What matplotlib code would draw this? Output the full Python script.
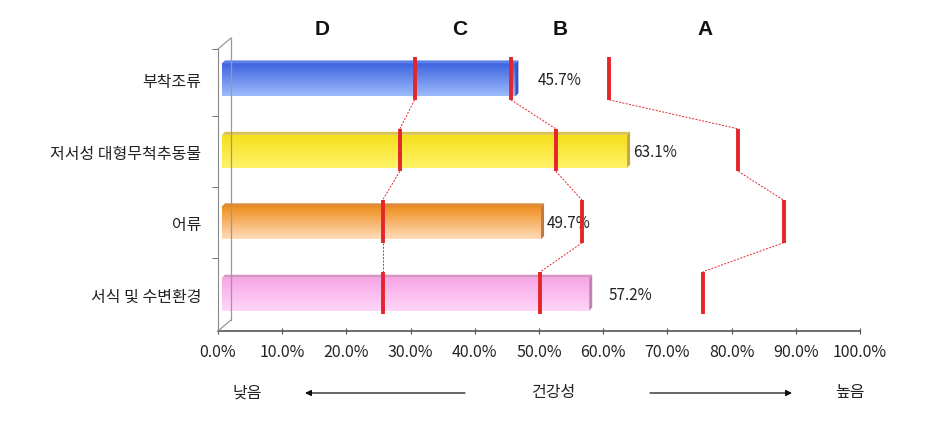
import matplotlib
matplotlib.use('Agg')
import matplotlib.pyplot as plt
import numpy as np
from matplotlib.patches import Rectangle, Polygon
from matplotlib.lines import Line2D
from matplotlib.transforms import IdentityTransform
from matplotlib.colors import to_rgb

plt.rcParams['font.family'] = ['Noto Sans CJK KR', 'DejaVu Sans']

# ---------------- data ----------------
categories = ['부착조류', '저서성 대형무척추동물', '어류', '서식 및 수변환경']
values = [45.7, 63.1, 49.7, 57.2]
boundary_dc = [30.0, 27.7, 25.0, 25.0]
boundary_cb = [45.0, 52.0, 56.1, 49.6]
boundary_ba = [60.3, 80.4, 87.5, 74.9]
grade_labels = ['D', 'C', 'B', 'A']
xticks = [0, 10, 20, 30, 40, 50, 60, 70, 80, 90, 100]
bottom_left, bottom_mid, bottom_right = '낮음', '건강성', '높음'

# ---------------- style ----------------
bar_top_colors = ['#3d64de', '#f5df1c', '#ef8e1e', '#f7a6e6']
bar_bot_colors = ['#9dbafb', '#fff36a', '#ffdcba', '#ffd6f9']
bar_cap_colors = ['#5a7fe8', '#d9c252', '#dc8c3c', '#d992c6']
bar_side_colors = ['#3553c4', '#c2a842', '#c07a40', '#c283b2']
label_gap_px = [22, 6, 6, 19]
grade_x = [16.2, 37.7, 53.3, 75.9]
red = '#e3262b'

W, H, DPI = 933, 435, 100
fig = plt.figure(figsize=(W / DPI, H / DPI), dpi=DPI)
ax_l, ax_r, ax_t, ax_b = 218, 860, 50, 332
rect = [ax_l / W, 1 - ax_b / H, (ax_r - ax_l) / W, (ax_b - ax_t) / H]
ymin_top, ymax_bot = -0.432, 3.516

ax = fig.add_axes(rect)
ax.set_xlim(0, 100)
ax.set_ylim(ymax_bot, ymin_top)
ax.set_xticks(xticks)
ax.set_xticklabels([f'{v:.1f}%' for v in xticks], fontsize=11.5, color='#222222')
ax.set_yticks(range(len(categories)))
ax.set_yticklabels(categories, fontsize=11.5, color='#222222')
ax.tick_params(axis='y', length=0, pad=12)
ax.set_yticks([ymin_top, 0.5, 1.5, 2.5], minor=True)
ax.tick_params(axis='y', which='minor', length=4, color='#555555')
ax.tick_params(axis='x', direction='inout', length=5, pad=6, color='#555555')
for s in ['top', 'right']:
    ax.spines[s].set_visible(False)
ax.spines['left'].set_color('#888888')
ax.spines['bottom'].set_color('#555555')
ax.spines['bottom'].set_linewidth(1.2)
ax.patch.set_alpha(0)

# back wall (3D effect)
dxw, dyw = 13, 11
wall = [((ax_l, H - ax_t), (ax_l + dxw, H - ax_t + dyw)),
        ((ax_l + dxw, H - ax_t + dyw), (ax_l + dxw, H - ax_b + dyw)),
        ((ax_l, H - ax_b), (ax_l + dxw, H - ax_b + dyw))]
for (p0, p1) in wall:
    fig.lines.append(Line2D([p0[0], p1[0]], [p0[1], p1[1]], transform=IdentityTransform(),
                            color='#999999', lw=0.9))

# bars axes (shifted slightly for depth)
shift = 4 / ((ax_r - ax_l) / 100)
ax2 = fig.add_axes(rect)
ax2.set_xlim(-shift, 100 - shift)
ax2.set_ylim(ymax_bot, ymin_top)
ax2.axis('off')

pxx = (ax_r - ax_l) / 100.0
pxy = (ax_b - ax_t) / (ymax_bot - ymin_top)
h = 0.46
cdx, cdy = 3 / pxx, 3 / pxy

for i, v in enumerate(values):
    y0, y1 = i - h / 2, i + h / 2
    c0, c1 = np.array(to_rgb(bar_top_colors[i])), np.array(to_rgb(bar_bot_colors[i]))
    t = np.linspace(0, 1, 64)[:, None]
    grad = (c0 * (1 - t) + c1 * t)[:, None, :]
    front = Rectangle((0, y0), v, h, facecolor='none', edgecolor='none')
    ax2.add_patch(front)
    im = ax2.imshow(grad, extent=(0, v, y1, y0), origin='upper', aspect='auto',
                    interpolation='bilinear', zorder=2)
    im.set_clip_path(front)
    cap = Polygon([(0, y0), (v, y0), (v + cdx, y0 - cdy), (cdx, y0 - cdy)],
                  closed=True, facecolor=bar_cap_colors[i], edgecolor='none', zorder=2)
    side = Polygon([(v, y0), (v + cdx, y0 - cdy), (v + cdx, y1 - cdy), (v, y1)],
                   closed=True, facecolor=bar_side_colors[i], edgecolor='none', zorder=2)
    ax2.add_patch(cap)
    ax2.add_patch(side)
    ax2.annotate(f'{v}%', xy=(v + cdx, i), xytext=(label_gap_px[i] - 3, 0),
                 textcoords='offset pixels', va='center', ha='left', fontsize=11,
                 color='#222222')

up, dn = 0.314, 0.28
for series in [boundary_dc, boundary_cb, boundary_ba]:
    for i, x in enumerate(series):
        ax2.vlines(x, i - up, i + dn, color=red, lw=2.8, zorder=4)
    for i in range(len(series) - 1):
        ax2.plot([series[i], series[i + 1]], [i + dn, i + 1 - up], color=red,
                 lw=0.7, ls=(0, (2, 1.5)), zorder=3)

# grade letters
for g, gx in zip(grade_labels, grade_x):
    ax.text(gx, -0.72, g, ha='center', va='center', fontsize=15, fontweight='bold',
            family=['Liberation Sans', 'DejaVu Sans'], clip_on=False, color='#111111')

# bottom annotation
yb = H - 393
fig.text(247 / W, yb / H, bottom_left, ha='center', va='center', fontsize=11.5, color='#222222')
fig.text(553 / W, yb / H, bottom_mid, ha='center', va='center', fontsize=11.5, color='#222222')
fig.text(850 / W, yb / H, bottom_right, ha='center', va='center', fontsize=11.5, color='#222222')
ya = H - 394
fig.add_artist(plt.Annotation('', xy=(305, ya), xycoords='figure pixels', xytext=(465, ya),
                              textcoords='figure pixels',
                              arrowprops=dict(arrowstyle='-|>', color='#111111', lw=0.9,
                                              mutation_scale=9, shrinkA=0, shrinkB=0)))
fig.add_artist(plt.Annotation('', xy=(792, ya), xycoords='figure pixels', xytext=(650, ya),
                              textcoords='figure pixels',
                              arrowprops=dict(arrowstyle='-|>', color='#111111', lw=0.9,
                                              mutation_scale=9, shrinkA=0, shrinkB=0)))

fig.savefig('out.png', dpi=DPI)
